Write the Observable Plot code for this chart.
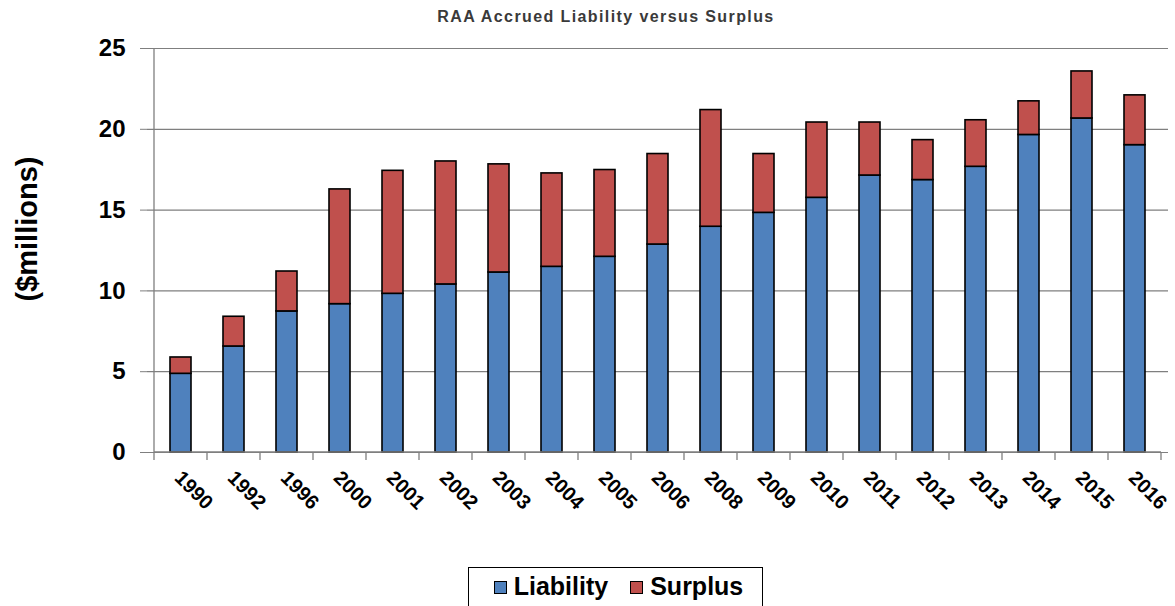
<!DOCTYPE html>
<html><head><meta charset="utf-8">
<script src="https://cdn.jsdelivr.net/npm/d3@7"></script>
<script src="https://cdn.jsdelivr.net/npm/@observablehq/plot@0.6"></script>
<style>
body{margin:0;background:#fff;font-family:"Liberation Sans",Arial,sans-serif;}
#wrap{position:relative;width:1175px;height:606px;overflow:hidden;background:#fff;}
#chart{position:absolute;left:0;top:0;}
#title{position:absolute;top:7px;left:406px;width:400px;text-align:center;font-size:16px;letter-spacing:1.4px;font-weight:bold;color:#3a3a3a;white-space:nowrap;line-height:20px;}
#ytitle{position:absolute;left:27px;top:229px;transform:translate(-50%,-50%) rotate(-90deg);font-size:29px;font-weight:bold;white-space:nowrap;color:#000;}
#legend{position:absolute;left:468px;top:567px;width:295px;height:50px;border:1px solid #000;box-sizing:border-box;display:flex;justify-content:center;padding-top:4px;padding-left:6px;gap:22px;}
.item{display:flex;align-items:flex-start;font-size:25px;font-weight:bold;color:#000;}
.sw{width:11px;height:11px;border:1.6px solid #000;margin:9px 7px 0 0;}
</style></head>
<body><div id="wrap">
<div id="chart"></div>
<div id="title"></div>
<div id="ytitle"></div>
<div id="legend"></div>
</div>
<script>
const years = ["1990","1992","1996","2000","2001","2002","2003","2004","2005","2006","2008","2009","2010","2011","2012","2013","2014","2015","2016"];
const liability = [4.87,6.56,8.73,9.18,9.82,10.40,11.14,11.49,12.11,12.87,13.97,14.83,15.76,17.14,16.86,17.68,19.65,20.67,19.02];
const total = [5.88,8.40,11.20,16.28,17.43,18.01,17.83,17.27,17.48,18.47,21.19,18.47,20.42,20.42,19.33,20.56,21.73,23.58,22.10];
const seriesNames = ["Liability","Surplus"];
const seriesColors = ["#4F81BD","#C0504D"];
const yTicks = [0,5,10,15,20,25];
const titleText = "RAA Accrued Liability versus Surplus";
const yLabel = "($millions)";

const rows = [];
years.forEach((yr,i) => {
  rows.push({year: yr, series: "Liability", value: liability[i]});
  rows.push({year: yr, series: "Surplus", value: +(total[i]-liability[i]).toFixed(2)});
});

function axisFrame(index, scales) {
  const x = scales.x, y = scales.y;
  const bw = x.bandwidth();
  const step = x(years[1]) - x(years[0]);
  const gap = (step - bw) / 2;
  const y0 = y(0), yTop = y(d3.max(yTicks));
  const left = x(years[0]) - gap;
  const right = x(years[years.length-1]) + bw + gap;
  const g = d3.create("svg:g").attr("stroke","#7f7f7f").attr("stroke-width",1.3).attr("fill","none");
  g.append("line").attr("x1",left).attr("x2",left).attr("y1",yTop).attr("y2",y0);
  g.append("line").attr("x1",left).attr("x2",right).attr("y1",y0).attr("y2",y0);
  const bounds = years.map(d => x(d) - gap).concat([right]);
  g.selectAll(".t").data(bounds).join("line")
    .attr("x1",d=>d).attr("x2",d=>d).attr("y1",y0).attr("y2",y0+8);
  return g.node();
}

const chart = Plot.plot({
  width: 1175,
  height: 560,
  marginLeft: 147,
  marginRight: 7,
  marginTop: 48,
  marginBottom: 108,
  style: {fontFamily: "Liberation Sans, Arial, sans-serif", background: "white", color: "black"},
  x: {domain: years, paddingInner: 0.6, paddingOuter: 0.3, label: null},
  y: {domain: [0, 25], label: null},
  color: {domain: seriesNames, range: seriesColors},
  marks: [
    Plot.gridY(yTicks, {stroke: "#7f7f7f", strokeOpacity: 1, strokeWidth: 1.2}),
    Plot.barY(rows, {x: "year", y: "value", fill: "series", order: seriesNames, stroke: "black", strokeWidth: 1.6}),
    axisFrame,
    Plot.axisY(yTicks, {fontSize: 24, fontWeight: "bold", tickSize: 7, tickPadding: 15, stroke: "#7f7f7f", label: null}),
    Plot.axisX({tickSize: 0, tickRotate: 45, fontSize: 20, fontWeight: "bold", tickPadding: 22, dx: -3, label: null})
  ]
});
document.getElementById("chart").appendChild(chart);
document.getElementById("title").textContent = titleText;
document.getElementById("ytitle").textContent = yLabel;
const lg = document.getElementById("legend");
seriesNames.forEach((s,i) => {
  const it = document.createElement("div"); it.className = "item";
  const sw = document.createElement("div"); sw.className = "sw"; sw.style.background = seriesColors[i];
  const tx = document.createElement("span"); tx.textContent = s;
  it.appendChild(sw); it.appendChild(tx); lg.appendChild(it);
});
</script>
</body></html>
